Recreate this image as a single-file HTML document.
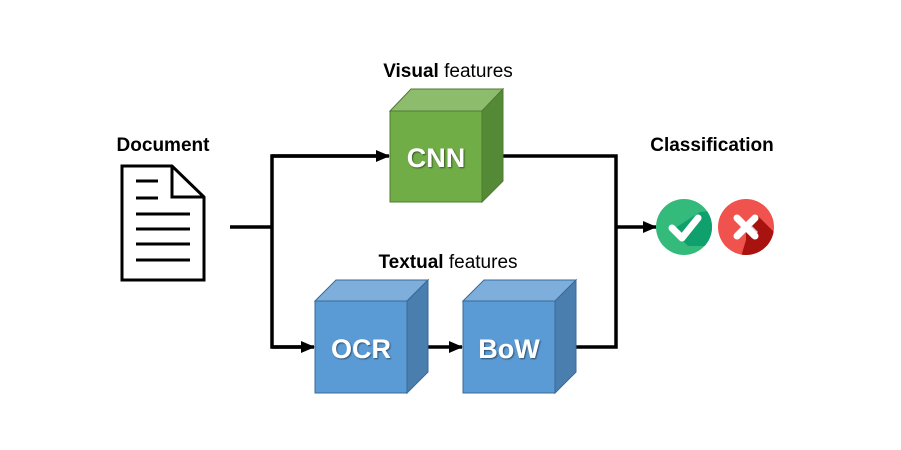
<!DOCTYPE html>
<html><head><meta charset="utf-8"><style>
html,body{margin:0;padding:0;background:#fff;}
svg{display:block;}
text{font-family:"Liberation Sans",sans-serif;}
</style></head><body>
<svg width="901" height="450" viewBox="0 0 901 450" xmlns="http://www.w3.org/2000/svg">
<defs>
<marker id="ar" markerWidth="14" markerHeight="12" refX="13" refY="6" orient="auto" markerUnits="userSpaceOnUse">
<path d="M0,0 L14,6 L0,12 z" fill="#000"/></marker>
<filter id="sh"><feDropShadow dx="1" dy="1" stdDeviation="0.8" flood-color="#000" flood-opacity="0.5"/></filter>
</defs>
<text x="163" y="151" font-size="19" font-weight="bold" text-anchor="middle">Document</text>
<text x="448" y="77" font-size="19" text-anchor="middle"><tspan font-weight="bold">Visual</tspan> features</text>
<text x="448" y="268" font-size="19" text-anchor="middle"><tspan font-weight="bold">Textual</tspan> features</text>
<text x="712" y="151" font-size="19" font-weight="bold" text-anchor="middle">Classification</text>
<path d="M122,166 L172,166 L204,197 L204,280 L122,280 z" fill="#fff" stroke="#000" stroke-width="3"/>
<path d="M172,166 L172,197 L204,197" fill="none" stroke="#000" stroke-width="3"/>
<g stroke="#000" stroke-width="3">
<line x1="136" y1="181" x2="158" y2="181"/><line x1="136" y1="198" x2="158" y2="198"/>
<line x1="136" y1="214" x2="190" y2="214"/><line x1="136" y1="229" x2="190" y2="229"/>
<line x1="136" y1="244" x2="190" y2="244"/><line x1="136" y1="260" x2="190" y2="260"/>
</g>
<g fill="none" stroke="#000" stroke-width="3.5">
<line x1="230" y1="227" x2="272" y2="227"/>
<path d="M380,156 L272,156 L272,347 L305,347" />
<line x1="272" y1="156" x2="389" y2="156" marker-end="url(#ar)"/>
<line x1="272" y1="347" x2="314" y2="347" marker-end="url(#ar)"/>
<line x1="428" y1="347" x2="462" y2="347" marker-end="url(#ar)"/>
<path d="M503,156 L616,156 L616,347 L576,347"/>
<line x1="616" y1="227" x2="656" y2="227" marker-end="url(#ar)"/>
</g>
<path d="M390,111 L411,89 L503,89 L482,111 z" fill="#8dbd6c" stroke="#4f7a33"/>
<path d="M482,111 L503,89 L503,181 L482,202 z" fill="#548a35" stroke="#4f7a33"/>
<rect x="390" y="111" width="92" height="91" fill="#70ad47" stroke="#4f7a33"/>
<text x="436" y="167" font-size="27" font-weight="bold" fill="#fff" text-anchor="middle" filter="url(#sh)">CNN</text>
<path d="M315,301 L336,280 L428,280 L407,301 z" fill="#7eaedb" stroke="#3a6a98"/>
<path d="M407,301 L428,280 L428,372 L407,393 z" fill="#4a7eae" stroke="#3a6a98"/>
<rect x="315" y="301" width="92" height="92" fill="#5b9bd5" stroke="#3a6a98"/>
<text x="361" y="358" font-size="27" font-weight="bold" fill="#fff" text-anchor="middle" filter="url(#sh)">OCR</text>
<path d="M463,301 L484,280 L576,280 L555,301 z" fill="#7eaedb" stroke="#3a6a98"/>
<path d="M555,301 L576,280 L576,372 L555,393 z" fill="#4a7eae" stroke="#3a6a98"/>
<rect x="463" y="301" width="92" height="92" fill="#5b9bd5" stroke="#3a6a98"/>
<text x="509" y="358" font-size="27" font-weight="bold" fill="#fff" text-anchor="middle" filter="url(#sh)">BoW</text>
<clipPath id="c1"><circle cx="684" cy="227" r="28"/></clipPath>
<circle cx="684" cy="227" r="28" fill="#34bb7c"/>
<path d="M672,230 L688,246 L720,246 L720,210 L700,212 z" fill="#10a06e" clip-path="url(#c1)"/>
<path d="M672,228 L682,238 L698,218" fill="none" stroke="#fff" stroke-width="7" stroke-linecap="round" stroke-linejoin="round"/>
<clipPath id="c2"><circle cx="746" cy="227" r="28"/></clipPath>
<circle cx="746" cy="227" r="28" fill="#f0524e"/>
<path d="M746,227 L758,216 L780,238 L760,260 L740,260 L746,240 z" fill="#a81310" clip-path="url(#c2)"/>
<path d="M746,232 L752,238 L758,232 L752,226 z" fill="#d8d8d8"/>
<g stroke="#fff" stroke-width="7" stroke-linecap="round">
<line x1="737" y1="218" x2="755" y2="236"/><line x1="755" y1="218" x2="737" y2="236"/>
</g>
</svg>
</body></html>
